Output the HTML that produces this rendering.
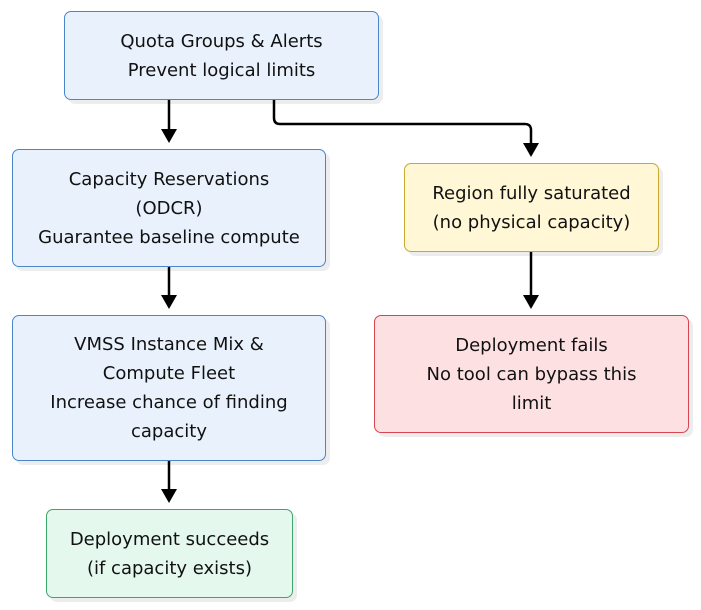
<!DOCTYPE html>
<html><head><style>
body{margin:0;width:701px;height:610px;background:#fff;position:relative;font-family:"DejaVu Sans","Liberation Sans",sans-serif;overflow:hidden}
.b{position:absolute;box-sizing:border-box;border:1.5px solid;border-radius:7px;display:flex;align-items:center;justify-content:center;text-align:center;font-size:18px;line-height:29px;color:#111;box-shadow:4px 4px 0 rgba(0,0,0,0.07)}
.bl{background:#e9f2fc;border-color:#4a86c8}
.g{background:#e4f8ee;border-color:#3aa86a}
.y{background:#fff7d6;border-color:#c9a92a}
.r{background:#fde1e2;border-color:#d64550}
svg{position:absolute;left:0;top:0}
</style></head><body>
<svg width="701" height="610">
<g stroke="#000" stroke-width="2.5" fill="none">
<line x1="169" y1="100" x2="169" y2="130"/>
<line x1="169" y1="267" x2="169" y2="296"/>
<line x1="169" y1="461" x2="169" y2="490"/>
<line x1="531" y1="252" x2="531" y2="296"/>
<path d="M274,100 V118 Q274,124 280,124 H525 Q531,124 531,130 V144"/>
</g>
<g fill="#000">
<path d="M161,129 H177 L169,143 Z"/>
<path d="M161,295 H177 L169,309 Z"/>
<path d="M161,489 H177 L169,503 Z"/>
<path d="M523,295 H539 L531,309 Z"/>
<path d="M523,143 H539 L531,157 Z"/>
</g>
</svg>
<div class="b bl" style="left:64px;top:11px;width:315px;height:89px">Quota Groups &amp; Alerts<br>Prevent logical limits</div>
<div class="b bl" style="left:12px;top:149px;width:314px;height:118px">Capacity Reservations<br>(ODCR)<br>Guarantee baseline compute</div>
<div class="b bl" style="left:12px;top:315px;width:314px;height:146px">VMSS Instance Mix &amp;<br>Compute Fleet<br>Increase chance of finding<br>capacity</div>
<div class="b g" style="left:46px;top:509px;width:247px;height:89px">Deployment succeeds<br>(if capacity exists)</div>
<div class="b y" style="left:404px;top:163px;width:255px;height:89px">Region fully saturated<br>(no physical capacity)</div>
<div class="b r" style="left:374px;top:315px;width:315px;height:118px">Deployment fails<br>No tool can bypass this<br>limit</div>
</body></html>
